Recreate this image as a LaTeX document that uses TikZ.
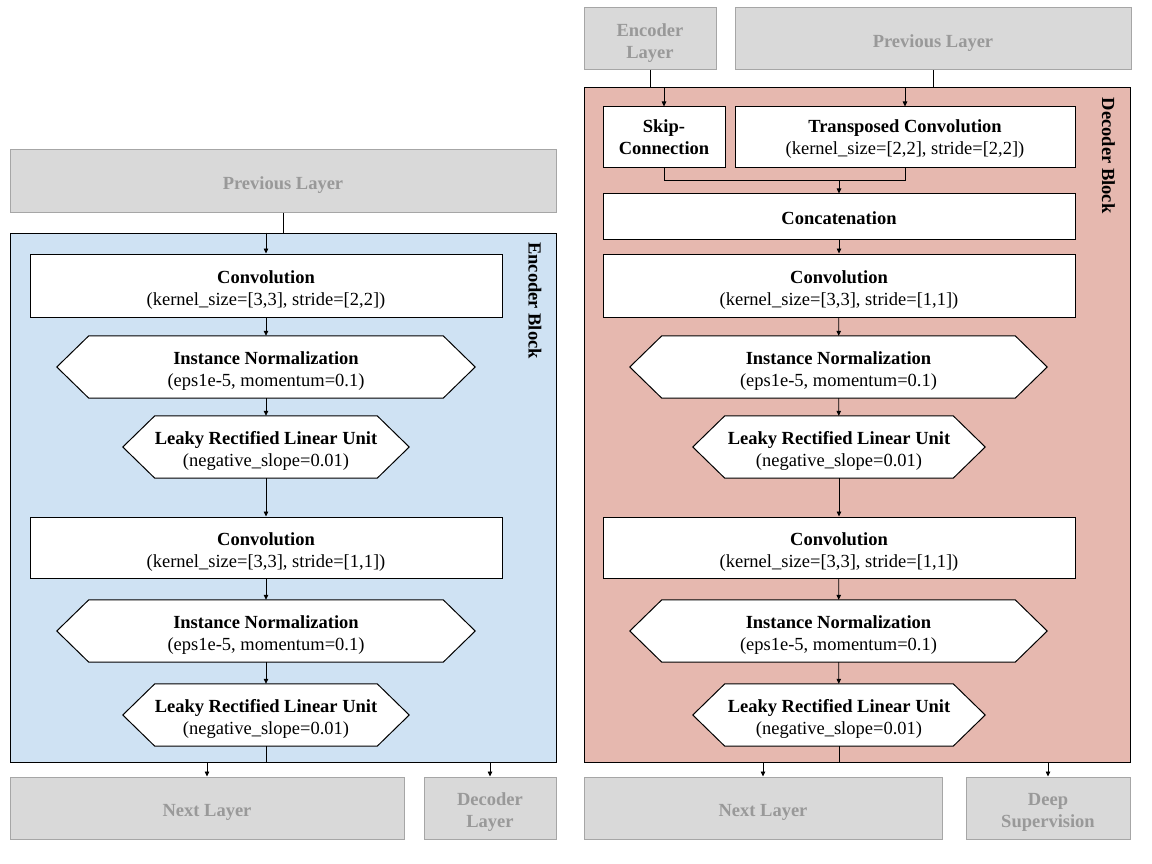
\documentclass[tikz,border=0pt]{standalone}
\usepackage{fontspec}
\setmainfont{Liberation Serif}
\usetikzlibrary{arrows.meta}
\pgfdeclarelayer{back}
\pgfdeclarelayer{mid}
\pgfsetlayers{back,mid,main}
\definecolor{encblue}{HTML}{CFE2F3}
\definecolor{decpink}{HTML}{E6B8AF}
\definecolor{gfill}{HTML}{D9D9D9}
\definecolor{gborder}{HTML}{A6A6A6}
\definecolor{gtext}{HTML}{999999}
\newcommand\st{\rule{0pt}{17.5pt}}
\newcommand\hexdraw[2]{%
  \begin{pgfonlayer}{mid}
  \draw[hexline] ([xshift=#2]#1.north west) -- ([xshift=-#2]#1.north east) -- (#1.east)
    -- ([xshift=-#2]#1.south east) -- ([xshift=#2]#1.south west) -- (#1.west) -- cycle;
  \end{pgfonlayer}}
\tikzset{
  txt/.style={font=\fontsize{18.5}{22}\selectfont, align=center, inner sep=0pt, text depth=0pt,
    execute at begin node={\rule{0pt}{17pt}}},
  wbox/.style={txt, draw=black, fill=white, line width=1pt},
  hexn/.style={txt},
  hexline/.style={draw=black, fill=white, line width=1pt, line join=miter},
  gbox/.style={txt, draw=gborder, fill=gfill, text=gtext, line width=1pt, font=\fontsize{18.5}{22}\selectfont\bfseries},
  block/.style={draw=black, line width=1pt, inner sep=0pt},
  blabel/.style={font=\fontsize{18.5}{22}\selectfont\bfseries, rotate=-90, inner sep=0pt},
  arr/.style={-{Triangle[width=4.5pt,length=5pt]}, line width=0.8pt},
  ln/.style={line width=0.8pt},
}
\begin{document}
\begin{tikzpicture}[x=1pt,y=-1pt]
\useasboundingbox (0,0) rectangle (1152,864);
\begin{pgfonlayer}{back}
\fill[white] (0,0) rectangle (1152,864);
\end{pgfonlayer}

% ---------------- Encoder (left) ----------------
\node[gbox, minimum width=546pt, minimum height=62pt] (prevL) at (283,181) {Previous Layer};
\begin{pgfonlayer}{back}
\node[block, fill=encblue, minimum width=546pt, minimum height=529pt] (enc) at (283,497.5) {};
\end{pgfonlayer}
\node[blabel] (encl) at (535,300.5) {Encoder Block};

\node[wbox, minimum width=472pt, minimum height=63pt] (conv1) at (266,285.5)
  {\st\textbf{Convolution}\\(kernel\_size=[3,3], stride=[2,2])};
\node[hexn, minimum width=418pt, minimum height=62pt] (in1) at (266,367)
  {\st\textbf{Instance Normalization}\\(eps1e-5, momentum=0.1)};
\hexdraw{in1}{32pt}
\node[hexn, minimum width=286pt, minimum height=62pt] (lr1) at (266,447)
  {\st\textbf{Leaky Rectified Linear Unit}\\(negative\_slope=0.01)};
\hexdraw{lr1}{32pt}
\node[wbox, minimum width=472pt, minimum height=61pt] (conv2) at (266,547.5)
  {\st\textbf{Convolution}\\(kernel\_size=[3,3], stride=[1,1])};
\node[hexn, minimum width=418pt, minimum height=62pt] (in2) at (266,631)
  {\st\textbf{Instance Normalization}\\(eps1e-5, momentum=0.1)};
\hexdraw{in2}{32pt}
\node[hexn, minimum width=286pt, minimum height=62pt] (lr2) at (266,715)
  {\st\textbf{Leaky Rectified Linear Unit}\\(negative\_slope=0.01)};
\hexdraw{lr2}{32pt}

\node[gbox, minimum width=394pt, minimum height=62pt] (nextL) at (207,808) {Next Layer};
\node[gbox, minimum width=132pt, minimum height=62pt] (decL) at (490,808) {\st Decoder\\Layer};

\draw[ln] (prevL.south) -- (prevL.south |- enc.north);
\draw[arr] (conv1.north |- enc.north) -- (conv1.north);
\draw[arr] (conv1) -- (in1);
\draw[arr] (in1) -- (lr1);
\draw[arr] (lr1) -- (conv2);
\draw[arr] (conv2) -- (in2);
\draw[arr] (in2) -- (lr2);
\draw[ln] (lr2.south) -- (lr2.south |- enc.south);
\draw[arr] (nextL.north |- enc.south) -- (nextL.north);
\draw[arr] (decL.north |- enc.south) -- (decL.north);

% ---------------- Decoder (right) ----------------
\node[gbox, minimum width=132pt, minimum height=62pt] (encL) at (650,38.5) {\st Encoder\\Layer};
\node[gbox, minimum width=396pt, minimum height=62pt] (prevR) at (933,39) {Previous Layer};
\begin{pgfonlayer}{back}
\node[block, fill=decpink, minimum width=546pt, minimum height=674pt] (dec) at (857,425) {};
\end{pgfonlayer}
\node[blabel] (decl) at (1108.5,155.5) {Decoder Block};

\node[wbox, minimum width=122pt, minimum height=61pt] (skip) at (664,137.5)
  {\textbf{Skip-}\\\textbf{Connection}};
\node[wbox, minimum width=340pt, minimum height=61pt] (tconv) at (905,137.5)
  {\textbf{Transposed Convolution}\\(kernel\_size=[2,2], stride=[2,2])};
\coordinate (mrg) at (839,180.5);
\node[wbox, minimum width=472pt, minimum height=45pt] (concat) at (839,216.5)
  {\textbf{Concatenation}};
\node[wbox, minimum width=472pt, minimum height=63pt] (convR1) at (839,285.5)
  {\st\textbf{Convolution}\\(kernel\_size=[3,3], stride=[1,1])};
\node[hexn, minimum width=417pt, minimum height=62pt] (inR1) at (838.5,367)
  {\st\textbf{Instance Normalization}\\(eps1e-5, momentum=0.1)};
\hexdraw{inR1}{32pt}
\node[hexn, minimum width=292pt, minimum height=62pt] (lrR1) at (839,447)
  {\st\textbf{Leaky Rectified Linear Unit}\\(negative\_slope=0.01)};
\hexdraw{lrR1}{32pt}
\node[wbox, minimum width=472pt, minimum height=61pt] (convR2) at (839,547.5)
  {\st\textbf{Convolution}\\(kernel\_size=[3,3], stride=[1,1])};
\node[hexn, minimum width=417pt, minimum height=62pt] (inR2) at (838.5,631)
  {\st\textbf{Instance Normalization}\\(eps1e-5, momentum=0.1)};
\hexdraw{inR2}{32pt}
\node[hexn, minimum width=292pt, minimum height=62pt] (lrR2) at (839,715)
  {\st\textbf{Leaky Rectified Linear Unit}\\(negative\_slope=0.01)};
\hexdraw{lrR2}{32pt}

\node[gbox, minimum width=358pt, minimum height=62pt] (nextR) at (763,808) {Next Layer};
\node[gbox, minimum width=164pt, minimum height=62pt] (deep) at (1048,808) {\st Deep\\Supervision};

\draw[ln] (encL.south) -- (encL.south |- dec.north);
\draw[arr] (skip.north |- dec.north) -- (skip.north);
\draw[ln] (prevR.south) -- (prevR.south |- dec.north);
\draw[arr] (tconv.north |- dec.north) -- (tconv.north);
\draw[ln] (skip.south) |- (mrg) -| (tconv.south);
\draw[arr] (mrg) -- (concat.north);
\draw[arr] (concat) -- (convR1);
\draw[arr] (convR1) -- (inR1);
\draw[arr] (inR1) -- (lrR1);
\draw[arr] (lrR1) -- (convR2);
\draw[arr] (convR2) -- (inR2);
\draw[arr] (inR2) -- (lrR2);
\draw[ln] (lrR2.south) -- (lrR2.south |- dec.south);
\draw[arr] (nextR.north |- dec.south) -- (nextR.north);
\draw[arr] (deep.north |- dec.south) -- (deep.north);
\end{tikzpicture}
\end{document}
